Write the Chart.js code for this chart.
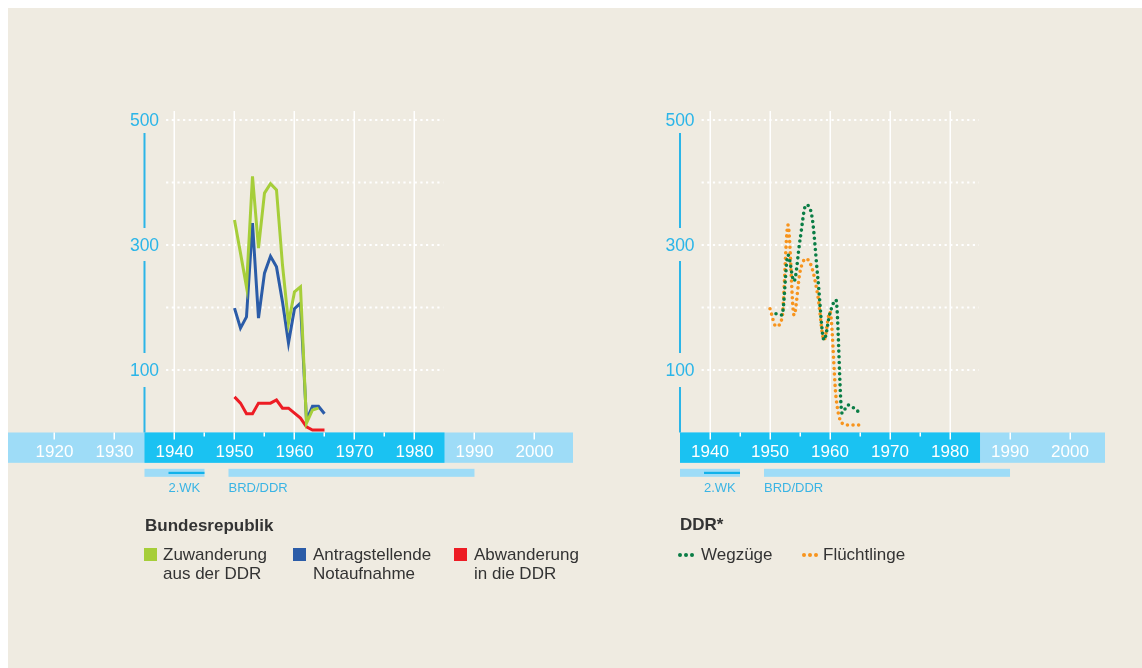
<!DOCTYPE html>
<html>
<head>
<meta charset="utf-8">
<script src="https://cdn.jsdelivr.net/npm/chart.js@4/dist/chart.umd.min.js"></script>
<style>
  html, body { margin:0; padding:0; background:#ffffff; }
  body { width:1142px; height:668px; position:relative; overflow:hidden; font-family:"Liberation Sans", Arial, sans-serif; }
  #bg { position:absolute; left:8px; top:8px; right:0; bottom:0; background:#efebe1; }
  canvas { position:absolute; left:0; top:0; }
  .t { position:absolute; color:#333333; white-space:nowrap; }
  .title { font-weight:bold; font-size:17px; line-height:20px; }
  .item { font-size:17px; line-height:19px; }
  .sq { position:absolute; width:13px; height:13px; }
  .dot { position:absolute; width:4px; height:4px; border-radius:50%; }
</style>
</head>
<body>
<div id="bg"></div>
<canvas id="c1" width="1142" height="668"></canvas>
<canvas id="c2" width="1142" height="668"></canvas>

<div class="t title" style="left:145px; top:516px;">Bundesrepublik</div>
<div class="sq" style="left:144px; top:548px; background:#a6ce39;"></div>
<div class="t item" style="left:163px; top:545px;">Zuwanderung<br>aus der DDR</div>
<div class="sq" style="left:293px; top:548px; background:#2b5ca8;"></div>
<div class="t item" style="left:313px; top:545px;">Antragstellende<br>Notaufnahme</div>
<div class="sq" style="left:454px; top:548px; background:#ed1c24;"></div>
<div class="t item" style="left:474px; top:545px;">Abwanderung<br>in die DDR</div>

<div class="t title" style="left:680px; top:515px;">DDR*</div>
<div class="dot" style="left:678px; top:553px; background:#0a7d45;"></div>
<div class="dot" style="left:684px; top:553px; background:#0a7d45;"></div>
<div class="dot" style="left:690px; top:553px; background:#0a7d45;"></div>
<div class="t item" style="left:701px; top:545px;">Wegzüge</div>
<div class="dot" style="left:802px; top:553px; background:#f7941d;"></div>
<div class="dot" style="left:808px; top:553px; background:#f7941d;"></div>
<div class="dot" style="left:814px; top:553px; background:#f7941d;"></div>
<div class="t item" style="left:823px; top:545px;">Flüchtlinge</div>

<script>
// ---------- DATA ----------
const yearsBRD = [1950,1951,1952,1953,1954,1955,1956,1957,1958,1959,1960,1961,1962,1963,1964,1965];
const zuwanderung  = [340, 287, 233, 410, 295, 383, 398, 388, 268, 175, 225, 233, 15, 36, 39, null];
const notaufnahme  = [199, 167, 185, 335, 183, 255, 282, 265, 209, 143, 198, 207, 20, 42, 42, 30];
const abwanderung  = [57, 47, 30, 30, 47, 47, 47, 52, 39, 39, 31, 23, 9, 4, 4, 4];

const yearsDDR = [1950,1951,1952,1953,1954,1955,1956,1957,1958,1959,1960,1961,1962,1963,1964,1965];
const wegzuege     = [null, 190, 188, 284, 242, 308, 364, 345, 244, 148, 191, 212, 31, 44, 39, 31];
const fluechtlinge = [198, 170, 183, 332, 188, 257, 278, 263, 217, 148, 193, 57, 15, 12, 12, 12];

const bandYearsLeft  = ['1920','1930','1940','1950','1960','1970','1980','1990','2000'];
const bandYearsRight = ['1940','1950','1960','1970','1980','1990','2000'];
const yTickLabels = ['500','300','100'];
const gridValues = [100, 200, 300, 400, 500];
const periodLabels = ['2.WK', 'BRD/DDR'];

// ---------- STYLE ----------
const C_LIGHT = '#9edcf7';
const C_DARK  = '#1ac2f2';
const C_AXIS  = '#2bb5e8';
const C_PERIOD_TXT = '#3ab4e4';
const FONT = '"Liberation Sans", Arial, sans-serif';

function pts(xs, ys) {
  const out = [];
  xs.forEach((x, i) => { if (ys[i] !== null && ys[i] !== undefined) out.push({x: x, y: ys[i]}); });
  return out;
}

function decorPlugin(labels) {
  return {
    id: 'decor',
    beforeDatasetsDraw(chart) {
      const ctx = chart.ctx;
      const x = chart.scales.x, y = chart.scales.y;
      const y0 = y.getPixelForValue(0);
      const yB = y.getPixelForValue(-48.5);
      const ca = chart.chartArea;
      ctx.save();
      // band
      ctx.fillStyle = C_LIGHT;
      ctx.fillRect(ca.left, y0, ca.right - ca.left, yB - y0);
      ctx.fillStyle = C_DARK;
      ctx.fillRect(x.getPixelForValue(1935), y0, x.getPixelForValue(1985) - x.getPixelForValue(1935), yB - y0);
      // vertical gridlines
      ctx.strokeStyle = '#ffffff';
      ctx.lineWidth = 1.5;
      const yTop = y.getPixelForValue(500) - 9;
      for (let yr = 1940; yr <= 1980; yr += 10) {
        const px = Math.round(x.getPixelForValue(yr)) + 0.25;
        ctx.beginPath(); ctx.moveTo(px, yTop); ctx.lineTo(px, y0); ctx.stroke();
      }
      // horizontal dotted gridlines
      ctx.lineWidth = 2.2;
      ctx.setLineDash([2.2, 3.45]);
      const gx0 = x.getPixelForValue(1938.6), gx1 = x.getPixelForValue(1984.8);
      gridValues.forEach(v => {
        const py = y.getPixelForValue(v);
        ctx.beginPath(); ctx.moveTo(gx0, py); ctx.lineTo(gx1, py); ctx.stroke();
      });
      ctx.setLineDash([]);
      // band ticks
      ctx.lineWidth = 1.5;
      const yrs = labels.map(Number);
      const tickYears = new Set(yrs);
      for (let yr = 1940; yr <= 1980; yr += 5) tickYears.add(yr);
      tickYears.forEach(yr => {
        const px = Math.round(x.getPixelForValue(yr)) + 0.25;
        const len = (yr % 10 === 0) ? 7 : 4;
        ctx.beginPath(); ctx.moveTo(px, y0); ctx.lineTo(px, y0 + len); ctx.stroke();
      });
      // band year labels
      ctx.fillStyle = '#ffffff';
      ctx.font = '17px ' + FONT;
      ctx.textAlign = 'center';
      ctx.textBaseline = 'middle';
      labels.forEach(l => {
        ctx.fillText(l, x.getPixelForValue(Number(l)), y.getPixelForValue(-31.5));
      });
      // y axis line with gaps
      const ax = x.getPixelForValue(1935);
      ctx.strokeStyle = C_AXIS;
      ctx.lineWidth = 2;
      const segs = [
        [y.getPixelForValue(500) + 13, y.getPixelForValue(300) - 17],
        [y.getPixelForValue(300) + 16, y.getPixelForValue(100) - 17],
        [y.getPixelForValue(100) + 17, y0]
      ];
      segs.forEach(s => { ctx.beginPath(); ctx.moveTo(ax, s[0]); ctx.lineTo(ax, s[1]); ctx.stroke(); });
      ctx.fillStyle = C_AXIS;
      ctx.font = '17.5px ' + FONT;
      yTickLabels.forEach(l => {
        ctx.fillText(l, ax, y.getPixelForValue(Number(l)) + 1);
      });
      // period bars below band
      const pb0 = yB + 6, pbH = 8;
      ctx.fillStyle = C_LIGHT;
      ctx.fillRect(x.getPixelForValue(1935), pb0, x.getPixelForValue(1945) - x.getPixelForValue(1935), pbH);
      ctx.fillRect(x.getPixelForValue(1949), pb0, x.getPixelForValue(1990) - x.getPixelForValue(1949), pbH);
      ctx.fillStyle = '#12b2ea';
      ctx.fillRect(x.getPixelForValue(1939), pb0 + 3, x.getPixelForValue(1945) - x.getPixelForValue(1939), 2.2);
      ctx.fillStyle = C_PERIOD_TXT;
      ctx.font = '13px ' + FONT;
      ctx.textAlign = 'left';
      ctx.fillText(periodLabels[0], x.getPixelForValue(1939), pb0 + 20);
      ctx.fillText(periodLabels[1], x.getPixelForValue(1949), pb0 + 20);
      ctx.restore();
    }
  };
}

function makeChart(id, datasets, xmin, xmax, pad, labels) {
  return new Chart(document.getElementById(id), {
    type: 'line',
    data: { datasets: datasets },
    options: {
      responsive: false,
      animation: false,
      devicePixelRatio: 1,
      layout: { padding: pad },
      plugins: { legend: { display: false }, tooltip: { enabled: false } },
      elements: { point: { radius: 0 } },
      scales: {
        x: { type: 'linear', min: xmin, max: xmax, display: false },
        y: { type: 'linear', min: -49.6, max: 500, display: false }
      }
    },
    plugins: [decorPlugin(labels)]
  });
}

// left chart: 6 px per year, 1935 at x=144.5
makeChart('c1', [
  { data: pts(yearsBRD, zuwanderung), borderColor: '#a6ce39', borderWidth: 3, tension: 0, borderJoinStyle: 'miter' },
  { data: pts(yearsBRD, notaufnahme), borderColor: '#2b5ca8', borderWidth: 3, tension: 0, borderJoinStyle: 'miter' },
  { data: pts(yearsBRD, abwanderung), borderColor: '#ed1c24', borderWidth: 3, tension: 0 }
], 1912.25, 2006.42, { left: 8, right: 1142 - 573, top: 120, bottom: 668 - 463.5 }, bandYearsLeft);

// right chart: 6 px per year, 1935 at x=680
makeChart('c2', [
  { data: pts(yearsDDR, wegzuege), borderColor: '#0a7d45', borderWidth: 3.6, borderDash: [0, 5.6], borderCapStyle: 'round', cubicInterpolationMode: 'monotone' },
  { data: pts(yearsDDR, fluechtlinge), borderColor: '#f7941d', borderWidth: 3.6, borderDash: [0, 5.6], borderCapStyle: 'round', cubicInterpolationMode: 'monotone' }
], 1935, 2005.83, { left: 680, right: 1142 - 1105, top: 120, bottom: 668 - 463.5 }, bandYearsRight);
</script>
</body>
</html>
